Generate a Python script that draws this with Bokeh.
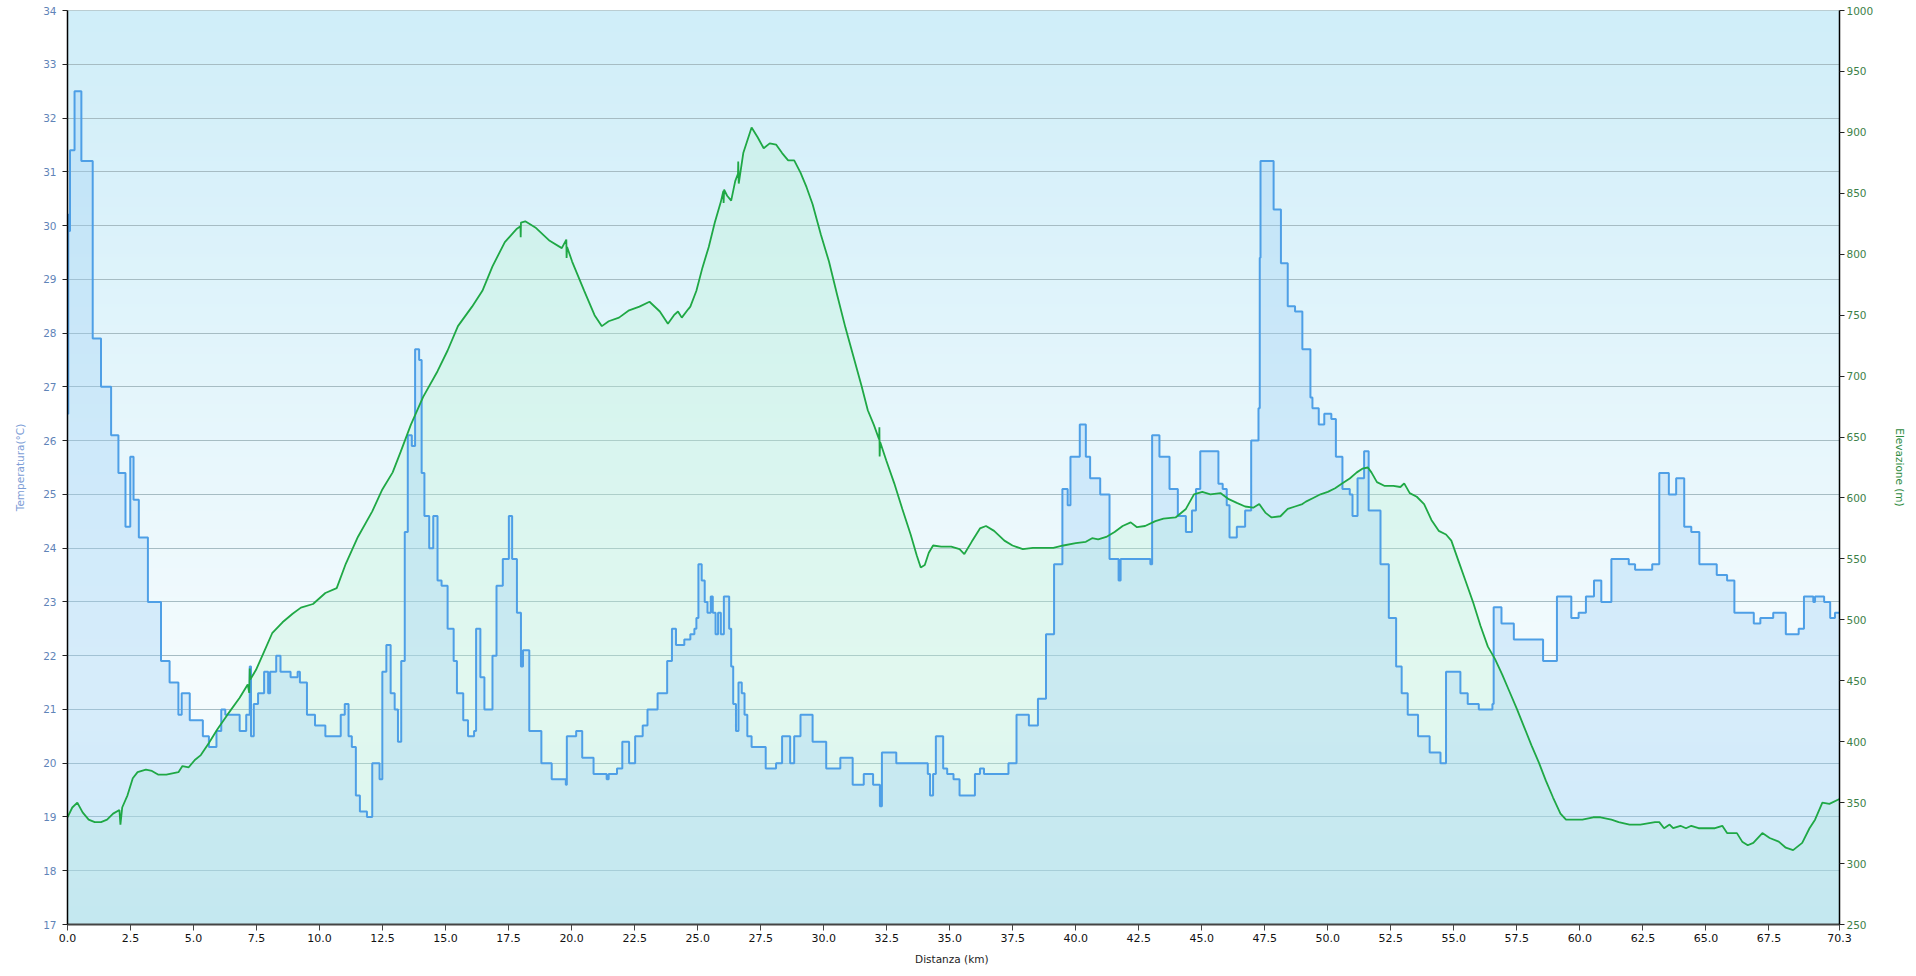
import numpy as np
from bokeh.plotting import figure
from bokeh.models import LinearAxis, Range1d, FixedTicker, PrintfTickFormatter
from bokeh.embed import file_html
from bokeh.resources import INLINE

# ---------------- data ----------------
distance_temp_km = [
    0.00, 0.03, 0.06, 0.10, 0.28, 0.55, 1.00, 1.33, 1.73, 2.02, 2.30, 2.49, 2.62, 2.83, 3.19, 3.71,
    4.05, 4.40, 4.53, 4.85, 5.37, 5.61, 5.91, 6.10, 6.26, 6.83, 7.09, 7.23, 7.28, 7.39, 7.56, 7.80,
    7.96, 8.04, 8.28, 8.45, 8.85, 9.13, 9.22, 9.50, 9.82, 10.23, 10.84, 11.00, 11.15, 11.28, 11.44,
    11.60, 11.88, 12.09, 12.38, 12.49, 12.65, 12.82, 12.98, 13.11, 13.24, 13.38, 13.50, 13.66, 13.79,
    13.95, 14.05, 14.16, 14.35, 14.51, 14.68, 14.84, 15.08, 15.32, 15.45, 15.70, 15.89, 16.13, 16.21,
    16.38, 16.54, 16.86, 17.02, 17.27, 17.51, 17.64, 17.83, 17.99, 18.07, 18.32, 18.80, 19.21, 19.77,
    19.81, 20.18, 20.42, 20.87, 21.39, 21.47, 21.80, 22.01, 22.28, 22.52, 22.82, 23.01, 23.41, 23.79,
    23.98, 24.14, 24.47, 24.71, 24.87, 24.95, 25.03, 25.16, 25.28, 25.39, 25.52, 25.60, 25.71, 25.81,
    25.92, 26.04, 26.25, 26.33, 26.41, 26.52, 26.62, 26.75, 26.86, 26.97, 27.14, 27.70, 28.11, 28.35,
    28.67, 28.83, 29.08, 29.56, 30.10, 30.66, 31.15, 31.59, 31.96, 32.23, 32.31, 32.88, 34.13, 34.22,
    34.34, 34.45, 34.74, 34.90, 35.15, 35.39, 36.00, 36.20, 36.36, 37.33, 37.65, 38.14, 38.50, 38.82,
    39.14, 39.47, 39.68, 39.79, 40.16, 40.40, 40.57, 40.97, 41.34, 41.70, 41.78, 42.96, 43.03, 43.32,
    43.72, 44.05, 44.37, 44.61, 44.77, 44.94, 45.66, 45.83, 45.99, 46.10, 46.39, 46.72, 46.96, 47.25,
    47.30, 47.33, 47.85, 48.14, 48.41, 48.70, 48.99, 49.31, 49.39, 49.64, 49.86, 50.14, 50.32, 50.58,
    50.87, 50.98, 51.18, 51.44, 51.62, 52.09, 52.42, 52.71, 52.93, 53.17, 53.58, 54.04, 54.47, 54.69,
    55.26, 55.55, 55.99, 56.53, 56.58, 56.89, 57.38, 58.54, 59.09, 59.66, 59.95, 60.24, 60.56, 60.85,
    61.25, 61.94, 62.19, 62.87, 63.15, 63.53, 63.82, 64.14, 64.42, 64.74, 65.43, 65.84, 66.13, 66.90,
    67.16, 67.67, 68.17, 68.68, 68.89, 69.26, 69.33, 69.69, 69.93, 70.12, 70.30,
]
temperature_c = [
    26.5, 30.2, 29.9, 31.4, 32.5, 31.2, 27.9, 27.0, 26.1, 25.4, 24.4, 25.7, 24.9, 24.2, 23.0, 21.9,
    21.5, 20.9, 21.3, 20.8, 20.5, 20.3, 20.6, 21.0, 20.9, 20.6, 20.9, 21.8, 20.5, 21.1, 21.3, 21.7,
    21.3, 21.7, 22.0, 21.7, 21.6, 21.7, 21.5, 20.9, 20.7, 20.5, 20.9, 21.1, 20.5, 20.3, 19.4,
    19.1, 19.0, 20.0, 19.7, 21.7, 22.2, 21.3, 21.0, 20.4, 21.9, 24.3, 26.1, 25.9, 27.7,
    27.5, 25.4, 24.6, 24.0, 24.6, 23.4, 23.3, 22.5, 21.9, 21.3, 20.8, 20.5, 20.6, 22.5,
    21.6, 21.0, 22.0, 23.3, 23.8, 24.6, 23.8, 22.8, 21.8, 22.1, 20.6, 20.0, 19.7, 19.6,
    20.5, 20.6, 20.1, 19.8, 19.7, 19.8, 19.9, 20.4, 20.0, 20.5, 20.7, 21.0, 21.3, 21.9,
    22.5, 22.2, 22.3, 22.4, 22.5, 22.7, 23.7, 23.4, 23.0, 22.8, 23.1, 22.8, 22.4, 22.8,
    22.4, 23.1, 22.5, 21.8, 21.1, 20.6, 21.5, 21.3, 20.9, 20.5, 20.3, 19.9, 20.0, 20.5,
    20.0, 20.5, 20.9, 20.4, 19.9, 20.1, 19.6, 19.8, 19.6, 19.2, 20.2, 20.0, 19.8, 19.4,
    19.8, 20.5, 19.9, 19.8, 19.7, 19.4, 19.8, 19.9, 19.8, 20.0, 20.9, 20.7, 21.2, 22.4,
    23.7, 25.1, 24.8, 25.7, 26.3, 25.7, 25.3, 25.0, 23.8, 23.4, 23.8, 23.7, 26.1, 25.7,
    25.1, 24.6, 24.3, 24.7, 25.1, 25.8, 25.2, 25.1, 24.8, 24.2, 24.4, 24.7, 26.0, 26.6,
    29.4, 31.2, 30.3, 29.3, 28.5, 28.4, 27.7, 26.8, 26.6, 26.3, 26.5, 26.4, 25.7, 25.1,
    25.0, 24.6, 25.3, 25.8, 24.7, 23.7, 22.7, 21.8, 21.3, 20.9, 20.5, 20.2, 20.0, 21.7,
    21.3, 21.1, 21.0, 21.1, 22.9, 22.6, 22.3, 21.9, 23.1, 22.7, 22.8, 23.1, 23.4, 23.0,
    23.8, 23.7, 23.6, 23.7, 25.4, 25.0, 25.3, 24.4, 24.3, 23.7, 23.5, 23.4, 22.8, 22.6,
    22.7, 22.8, 22.4, 22.5, 23.1, 23.0, 23.1, 23.0, 22.7, 22.8, 22.8,
]

distance_elev_km = [
    0.00, 0.19, 0.39, 0.60, 0.84, 1.08, 1.33, 1.57, 1.81, 2.06, 2.10, 2.17, 2.38, 2.59, 2.78, 3.11,
    3.35, 3.59, 3.92, 4.16, 4.40, 4.56, 4.81, 5.05, 5.29, 5.61, 5.94, 6.34, 6.83, 7.15, 7.21, 7.23,
    7.25, 7.48, 7.80, 8.12, 8.53, 8.93, 9.26, 9.74, 10.23, 10.68, 11.04, 11.52, 12.09, 12.49, 12.90,
    13.22, 13.62, 14.11, 14.68, 15.08, 15.49, 16.05, 16.46, 16.86, 17.35, 17.83, 17.97, 17.98, 17.99,
    18.16, 18.56, 19.13, 19.61, 19.79, 19.80, 19.82, 20.02, 20.50, 20.91, 21.20, 21.47, 21.88, 22.28,
    22.69, 23.09, 23.50, 23.82, 24.06, 24.22, 24.37, 24.63, 24.71, 24.95, 25.19, 25.44, 25.68, 25.92,
    26.02, 26.03, 26.05, 26.17, 26.33, 26.49, 26.60, 26.61, 26.63, 26.81, 27.14, 27.38, 27.62, 27.86,
    28.11, 28.35, 28.59, 28.83, 29.08, 29.32, 29.56, 29.89, 30.21, 30.53, 30.86, 31.18, 31.50, 31.75,
    31.99, 32.20, 32.21, 32.22, 32.24, 32.48, 32.80, 33.12, 33.45, 33.69, 33.85, 34.01, 34.17, 34.34,
    34.66, 35.06, 35.39, 35.58, 35.87, 36.20, 36.44, 36.76, 37.17, 37.49, 37.90, 38.30, 38.71, 39.11,
    39.51, 40.00, 40.40, 40.65, 40.89, 41.21, 41.54, 41.86, 42.18, 42.43, 42.75, 43.16, 43.48, 43.96,
    44.37, 44.69, 45.02, 45.34, 45.74, 46.07, 46.39, 46.72, 47.04, 47.28, 47.52, 47.77, 48.12, 48.41,
    48.70, 48.99, 49.13, 49.42, 49.71, 50.00, 50.29, 50.58, 50.87, 51.15, 51.37, 51.59, 51.73, 51.95,
    52.24, 52.60, 52.88, 53.03, 53.25, 53.53, 53.82, 54.11, 54.40, 54.69, 54.90, 55.19, 55.48, 55.77,
    56.06, 56.35, 56.63, 56.92, 57.21, 57.50, 57.79, 58.08, 58.37, 58.65, 58.94, 59.23, 59.45, 59.66,
    60.10, 60.53, 60.82, 61.25, 61.54, 61.97, 62.40, 62.69, 62.98, 63.15, 63.34, 63.56, 63.70, 63.99,
    64.21, 64.42, 64.71, 65.00, 65.36, 65.65, 65.84, 66.23, 66.44, 66.66, 66.88, 67.24, 67.53, 67.89,
    68.17, 68.46, 68.82, 69.11, 69.33, 69.62, 69.90, 70.30,
]
elevation_m = [
    338, 346, 350, 342, 336, 334, 334, 336, 341, 344, 332, 346, 356, 370, 375, 377,
    376, 373, 373, 374, 375, 380, 379, 385, 389, 399, 410, 422, 436, 447, 440, 460,
    451, 459, 474, 489, 498, 505, 510, 513, 522, 526, 546, 568, 589, 607, 621,
    638, 660, 683, 704, 721, 741, 757, 770, 790, 810, 821, 823, 814, 826,
    827, 822, 811, 805, 812, 797, 806, 794, 770, 750, 741, 745, 748, 754,
    757, 761, 753, 743, 750, 753, 748, 755, 757, 770, 789, 806, 826, 843,
    852, 842, 853, 848, 844, 860, 866, 876, 858, 883, 904, 896, 887, 891,
    890, 883, 877, 877, 867, 855, 841, 816, 794, 767, 740, 716, 692, 672,
    660, 648, 658, 634, 646, 631, 612, 591, 570, 553, 543, 545, 555, 561,
    560, 560, 558, 554, 564, 575, 577, 573, 565, 561, 558, 559, 559, 559,
    561, 563, 564, 567, 566, 568, 572, 577, 580, 576, 577, 581, 583, 584,
    591, 603, 605, 603, 604, 599, 596, 593, 592, 595, 588, 584, 585, 591,
    593, 595, 597, 600, 603, 605, 608, 612, 616, 621, 624, 625, 621, 613,
    610, 610, 609, 612, 604, 601, 595, 582, 573, 570, 565, 548, 531, 514,
    495, 478, 468, 455, 441, 427, 412, 397, 383, 368, 354, 341, 336, 336,
    336, 338, 338, 336, 334, 332, 332, 333, 334, 334, 329, 332, 329, 331,
    329, 331, 329, 329, 329, 331, 325, 325, 318, 315, 317, 325, 321, 318,
    313, 311, 317, 329, 336, 350, 349, 353,
]

X_MIN, X_MAX = 0.0, 70.3
T_MIN, T_MAX = 17, 34
E_MIN, E_MAX = 250, 1000
x_ticks = [i * 2.5 for i in range(28)] + [70.3]
temp_ticks = list(range(17, 35))
elev_ticks = list(range(250, 1001, 50))

FONT = "DejaVu Sans"

# ---------------- figure ----------------
p = figure(
    frame_width=1772, frame_height=914,
    x_range=Range1d(X_MIN, X_MAX), y_range=Range1d(T_MIN, T_MAX),
    output_backend="svg", toolbar_location=None,
    min_border_left=67, min_border_right=77, min_border_top=10, min_border_bottom=52,
)
p.extra_y_ranges = {"elev": Range1d(E_MIN, E_MAX)}
p.border_fill_color = "white"
p.background_fill_color = "#e6f6fb"
p.outline_line_color = "#b3c2c6"
p.outline_line_width = 1

# vertical background gradient (light blue top -> near white lower)
H = 256
frac = np.linspace(0.0, 1.0, H)  # 0 bottom, 1 top
stops_f = [0.0, 0.25, 1.0]
stops_c = [(232, 247, 250), (245, 252, 254), (208, 238, 249)]
img = np.empty((H, 1), dtype=np.uint32)
view = img.view(dtype=np.uint8).reshape((H, 1, 4))
for ch in range(3):
    view[:, 0, ch] = np.interp(frac, stops_f, [c[ch] for c in stops_c]).astype(np.uint8)
view[:, 0, 3] = 255
p.image_rgba(image=[img], x=X_MIN, y=T_MIN, dw=X_MAX - X_MIN, dh=T_MAX - T_MIN, level="image")

# fills
p.varea(x=distance_elev_km, y1=E_MIN, y2=elevation_m, y_range_name="elev",
        fill_color="#bdf2d4", fill_alpha=0.33)
p.varea_step(x=distance_temp_km, y1=T_MIN, y2=temperature_c, step_mode="after",
             fill_color="#9ccdf6", fill_alpha=0.33)

# lines
p.step(x=distance_temp_km, y=temperature_c, mode="after",
       line_color="#4e9fe6", line_width=2)
p.line(x=distance_elev_km, y=elevation_m, y_range_name="elev",
       line_color="#1fa845", line_width=1.8)

# grid
p.xgrid.visible = False
p.ygrid.grid_line_color = "#a6bcc3"
p.ygrid.grid_line_width = 1

# x axis
xa = p.xaxis[0]
xa.ticker = FixedTicker(ticks=x_ticks)
xa.formatter = PrintfTickFormatter(format="%.1f")
xa.axis_label = "Distanza  (km)"
xa.axis_label_text_font = FONT
xa.axis_label_text_font_size = "10.5px"
xa.axis_label_text_font_style = "normal"
xa.axis_label_text_color = "#222222"
xa.axis_label_standoff = 8
xa.major_label_text_font = FONT
xa.major_label_text_font_size = "11px"
xa.major_label_text_color = "#111111"
xa.major_label_standoff = 3
xa.major_tick_in = 0
xa.major_tick_out = 6
xa.minor_tick_line_color = None
xa.axis_line_color = "#444444"
xa.axis_line_width = 2
xa.major_tick_line_color = "#444444"

# left axis
ya = p.yaxis[0]
ya.ticker = FixedTicker(ticks=temp_ticks)
ya.axis_label = "Temperatura(°C)"
ya.axis_label_text_font = FONT
ya.axis_label_text_font_size = "10.5px"
ya.axis_label_text_font_style = "normal"
ya.axis_label_text_color = "#7c9dd6"
ya.axis_label_standoff = 14
ya.major_label_text_font = FONT
ya.major_label_text_font_size = "10.5px"
ya.major_label_text_color = "#5f84b8"
ya.major_label_standoff = 6
ya.major_tick_in = 0
ya.major_tick_out = 5
ya.minor_tick_line_color = None
ya.axis_line_color = "#000000"
ya.axis_line_width = 1.5
ya.major_tick_line_color = "#222222"

# right axis
ra = LinearAxis(y_range_name="elev", ticker=FixedTicker(ticks=elev_ticks),
                axis_label="Elevazione (m)")
ra.axis_label_text_font = FONT
ra.axis_label_text_font_size = "10.5px"
ra.axis_label_text_font_style = "normal"
ra.axis_label_text_color = "#2f8c3f"
ra.axis_label_standoff = 18
ra.major_label_text_font = FONT
ra.major_label_text_font_size = "10.5px"
ra.major_label_text_color = "#3d7f48"
ra.major_label_standoff = 2
ra.major_tick_in = 0
ra.major_tick_out = 5
ra.minor_tick_line_color = None
ra.axis_line_color = "#000000"
ra.axis_line_width = 1.5
ra.major_tick_line_color = "#222222"
p.add_layout(ra, "right")

p.styles = {"outline": "1px solid #d9d9d9", "outline-offset": "-3px"}

open("out.html", "w").write(file_html(p, INLINE))
